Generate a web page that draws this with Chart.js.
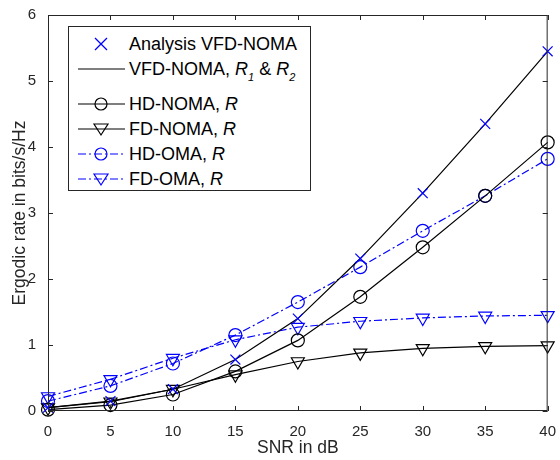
<!DOCTYPE html>
<html>
<head>
<meta charset="utf-8">
<script src="https://cdn.jsdelivr.net/npm/chart.js@4/dist/chart.umd.min.js"></script>
<style>
  html, body { margin: 0; padding: 0; background: #fff; }
  #wrap { position: relative; width: 560px; height: 460px; font-family: "Liberation Sans", Arial, sans-serif; }
  #legend {
    position: absolute; left: 68px; top: 26px; width: 243px; height: 165px;
    border: 1px solid #262626; background: #fff; box-sizing: border-box;
    font-size: 18px; color: #000;
  }
  .row { position: absolute; left: 0; height: 20px; display: flex; align-items: center; }
  .row svg { width: 58px; height: 20px; flex: none; }
  .row span { margin-left: 2px; white-space: nowrap; }
  sub { font-size: 11px; font-style: italic; vertical-align: -6px; line-height: 0; }
</style>
</head>
<body>
<div id="wrap">
  <canvas id="c" width="560" height="460"></canvas>
  <div id="legend"></div>
</div>
<script>
const BLUE = "#0000ff";
const snr = [0, 5, 10, 15, 20, 25, 30, 35, 40];
const analysisVfd = [0.05, 0.15, 0.33, 0.78, 1.40, 2.31, 3.30, 4.35, 5.45];
const vfdNoma = [0.05, 0.15, 0.33, 0.78, 1.40, 2.31, 3.30, 4.35, 5.45];
const hdNoma = [0.02, 0.09, 0.25, 0.60, 1.07, 1.73, 2.48, 3.26, 4.07];
const fdNoma = [0.05, 0.14, 0.33, 0.55, 0.75, 0.88, 0.95, 0.98, 0.99];
const hdOma = [0.15, 0.38, 0.72, 1.15, 1.65, 2.18, 2.73, 3.26, 3.82];
const fdOma = [0.22, 0.48, 0.80, 1.08, 1.27, 1.36, 1.41, 1.44, 1.45];
const xTicks = [0, 5, 10, 15, 20, 25, 30, 35, 40];
const yTicks = [0, 1, 2, 3, 4, 5, 6];

const pts = (ys) => snr.map((x, i) => ({ x, y: ys[i] }));
const AXIS = "#262626";
const FONT = "'Liberation Sans', Arial, sans-serif";

// MATLAB style box with inward ticks
const boxAxes = {
  id: "boxAxes",
  afterDatasetsDraw(chart) {
    const { ctx, chartArea: a, scales } = chart;
    ctx.save();
    ctx.strokeStyle = AXIS;
    ctx.lineWidth = 1;
    ctx.strokeRect(a.left + 0.5, a.top + 0.5, a.right - a.left - 1, a.bottom - a.top - 1);
    ctx.beginPath();
    xTicks.forEach((v) => {
      const px = Math.round(scales.x.getPixelForValue(v)) + 0.5;
      ctx.moveTo(px, a.bottom); ctx.lineTo(px, a.bottom - 5);
      ctx.moveTo(px, a.top); ctx.lineTo(px, a.top + 5);
    });
    yTicks.forEach((v) => {
      const py = Math.round(scales.y.getPixelForValue(v)) + 0.5;
      ctx.moveTo(a.left, py); ctx.lineTo(a.left + 5, py);
      ctx.moveTo(a.right, py); ctx.lineTo(a.right - 5, py);
    });
    ctx.stroke();
    ctx.restore();
  },
};

new Chart(document.getElementById("c"), {
  type: "line",
  data: {
    datasets: [
      { label: "Analysis VFD-NOMA", data: pts(analysisVfd), showLine: false, borderColor: BLUE,
        pointStyle: "crossRot", pointRadius: 7, pointBorderWidth: 1.2 },
      { label: "VFD-NOMA", data: pts(vfdNoma), borderColor: "#000", borderWidth: 1.2, pointRadius: 0 },
      { label: "HD-NOMA", data: pts(hdNoma), borderColor: "#000", borderWidth: 1.2,
        pointStyle: "circle", pointRadius: 6.5, pointBorderWidth: 1.2, pointBackgroundColor: "rgba(0,0,0,0)" },
      { label: "FD-NOMA", data: pts(fdNoma), borderColor: "#000", borderWidth: 1.2,
        pointStyle: "triangle", rotation: 180, pointRadius: 7.5, pointBorderWidth: 1.2, pointBackgroundColor: "rgba(0,0,0,0)" },
      { label: "HD-OMA", data: pts(hdOma), borderColor: BLUE, borderWidth: 1.2, borderDash: [8, 3, 2, 3],
        pointStyle: "circle", pointRadius: 6.5, pointBorderWidth: 1.2, pointBackgroundColor: "rgba(0,0,0,0)" },
      { label: "FD-OMA", data: pts(fdOma), borderColor: BLUE, borderWidth: 1.2, borderDash: [8, 3, 2, 3],
        pointStyle: "triangle", rotation: 180, pointRadius: 7.5, pointBorderWidth: 1.2, pointBackgroundColor: "rgba(0,0,0,0)" },
    ].map((d) => Object.assign({ fill: false, tension: 0, clip: false }, d)),
  },
  options: {
    responsive: false,
    animation: false,
    events: [],
    layout: { padding: { top: 15, right: 6, left: 0, bottom: 0 } },
    plugins: { legend: { display: false }, tooltip: { enabled: false } },
    scales: {
      x: {
        type: "linear", min: 0, max: 40,
        afterBuildTicks: (s) => { s.ticks = xTicks.map((v) => ({ value: v })); },
        afterFit: (s) => { s.height = 49; },
        grid: { display: false }, border: { display: false },
        ticks: { color: AXIS, font: { family: FONT, size: 15 }, padding: 4 },
        title: { display: true, text: "SNR in dB", color: AXIS, font: { family: FONT, size: 17.5 }, padding: { top: 0, bottom: 1 } },
      },
      y: {
        min: 0, max: 6,
        afterBuildTicks: (s) => { s.ticks = yTicks.map((v) => ({ value: v })); },
        afterFit: (s) => { s.width = 48; },
        grid: { display: false }, border: { display: false },
        ticks: { color: AXIS, font: { family: FONT, size: 15 }, padding: 4 },
        title: { display: true, text: "Ergodic rate in bits/s/Hz", color: AXIS, font: { family: FONT, size: 17.5 }, padding: { top: 10, bottom: 0 } },
      },
    },
  },
  plugins: [boxAxes],
});

// legend (HTML so R, subscripts stay real text)
const dashDot = 'stroke-dasharray="8 3 2 3"';
const legendRows = [
  { top: 7, svg: `<path d="M26 4 L38 16 M38 4 L26 16" stroke="${BLUE}" stroke-width="1.3" fill="none"/>`,
    html: "Analysis VFD-NOMA" },
  { top: 32, svg: `<line x1="9" y1="10" x2="56" y2="10" stroke="#000" stroke-width="1.2"/>`,
    html: "VFD-NOMA, <i>R</i><sub>1</sub> &amp; <i>R</i><sub>2</sub>" },
  { top: 67, svg: `<line x1="9" y1="10" x2="56" y2="10" stroke="#000" stroke-width="1.2"/><circle cx="32" cy="10" r="6" stroke="#000" stroke-width="1.2" fill="none"/>`,
    html: "HD-NOMA, <i>R</i>" },
  { top: 92, svg: `<line x1="9" y1="10" x2="56" y2="10" stroke="#000" stroke-width="1.2"/><path d="M25 5 L39 5 L32 16 Z" stroke="#000" stroke-width="1.2" fill="none"/>`,
    html: "FD-NOMA, <i>R</i>" },
  { top: 117, svg: `<line x1="9" y1="10" x2="56" y2="10" stroke="${BLUE}" stroke-width="1.2" ${dashDot}/><circle cx="32" cy="10" r="6" stroke="${BLUE}" stroke-width="1.2" fill="none"/>`,
    html: "HD-OMA, <i>R</i>" },
  { top: 142, svg: `<line x1="9" y1="10" x2="56" y2="10" stroke="${BLUE}" stroke-width="1.2" ${dashDot}/><path d="M25 5 L39 5 L32 16 Z" stroke="${BLUE}" stroke-width="1.2" fill="none"/>`,
    html: "FD-OMA, <i>R</i>" },
];
document.getElementById("legend").innerHTML = legendRows
  .map((r) => `<div class="row" style="top:${r.top}px"><svg viewBox="0 0 58 20">${r.svg}</svg><span>${r.html}</span></div>`)
  .join("");
</script>
</body>
</html>
